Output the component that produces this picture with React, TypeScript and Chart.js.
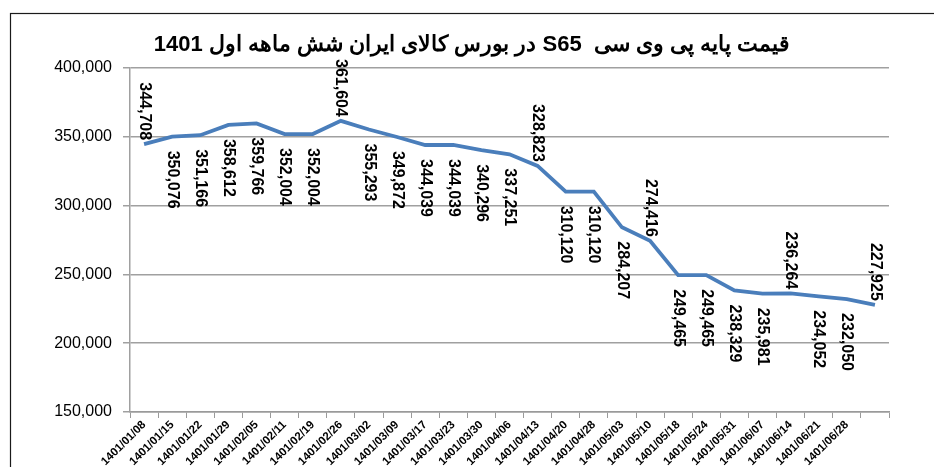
import React, { useEffect, useRef } from "react";
import { Chart, registerables } from "chart.js";

Chart.register(...registerables);

const TITLE = "قیمت پایه پی وی سی  S65 در بورس کالای ایران شش ماهه اول 1401";

const categories = [
  "1401/01/08", "1401/01/15", "1401/01/22", "1401/01/29", "1401/02/05", "1401/02/11",
  "1401/02/19", "1401/02/26", "1401/03/02", "1401/03/09", "1401/03/17", "1401/03/23",
  "1401/03/30", "1401/04/06", "1401/04/13", "1401/04/20", "1401/04/28", "1401/05/03",
  "1401/05/10", "1401/05/18", "1401/05/24", "1401/05/31", "1401/06/07", "1401/06/14",
  "1401/06/21", "1401/06/28", "",
];

const prices = [
  344708, 350076, 351166, 358612, 359766, 352004, 352004, 361604, 355293, 349872,
  344039, 344039, 340296, 337251, 328823, 310120, 310120, 284207, 274416, 249465,
  249465, 238329, 235981, 236264, 234052, 232050, 227925,
];

// indices whose data label sits above the line (others below)
const labelsAbove = [0, 7, 14, 18, 23, 26];

const yMin = 150000;
const yMax = 400000;
const yStep = 50000;

const fmt = (v: number) => v.toLocaleString("en-US");

const framePlugin = {
  id: "frame",
  beforeDraw(chart: any) {
    const ctx = chart.ctx;
    ctx.save();
    ctx.fillStyle = "#ffffff";
    ctx.fillRect(0, 0, chart.width, chart.height);
    ctx.strokeStyle = "#1a1a1a";
    ctx.lineWidth = 1.2;
    ctx.strokeRect(10.5, 13.5, 1200, 1200);
    ctx.restore();
  },
};

const titlePlugin = {
  id: "rtlTitle",
  afterDraw(chart: any) {
    const ctx = chart.ctx;
    ctx.save();
    ctx.direction = "rtl";
    ctx.font = "bold 22px 'Liberation Sans', Arial, sans-serif";
    ctx.fillStyle = "#000000";
    ctx.textAlign = "center";
    ctx.textBaseline = "middle";
    ctx.fillText(TITLE, 472, 45);
    ctx.restore();
  },
};

const dataLabelPlugin = {
  id: "vlabels",
  afterDatasetsDraw(chart: any) {
    const ctx = chart.ctx;
    const meta = chart.getDatasetMeta(0);
    ctx.save();
    ctx.font = "bold 16px 'Liberation Sans', Arial, sans-serif";
    ctx.fillStyle = "#000000";
    ctx.textBaseline = "middle";
    meta.data.forEach((pt: any, i: number) => {
      const above = labelsAbove.includes(i);
      const txt = fmt(prices[i]);
      ctx.save();
      if (above) {
        ctx.translate(pt.x, pt.y - 4);
        ctx.rotate(Math.PI / 2);
        ctx.textAlign = "right";
      } else {
        ctx.translate(pt.x, pt.y + 14);
        ctx.rotate(Math.PI / 2);
        ctx.textAlign = "left";
      }
      ctx.fillText(txt, 0, 0);
      ctx.restore();
    });
    ctx.restore();
  },
};

export default function App() {
  const ref = useRef<HTMLCanvasElement>(null);
  useEffect(() => {
    if (!ref.current) return;
    const chart = new Chart(ref.current, {
      type: "line",
      data: {
        labels: categories,
        datasets: [
          {
            data: prices,
            borderColor: "#4a7ebb",
            borderWidth: 3.8,
            pointRadius: 0,
            tension: 0,
            fill: false,
          },
        ],
      },
      options: {
        animation: false,
        responsive: false,
        maintainAspectRatio: false,
        layout: { padding: { left: 0, right: 45, top: 68, bottom: 0 } },
        plugins: {
          legend: { display: false },
          title: { display: false },
          tooltip: { enabled: false },
        },
        scales: {
          x: {
            offset: true,
            grid: {
              offset: true,
              drawOnChartArea: false,
              drawTicks: true,
              tickLength: 6,
              color: "#9a9a9a",
              lineWidth: 1,
            },
            border: { color: "#9a9a9a", width: 1.5 },
            ticks: {
              autoSkip: false,
              minRotation: 45,
              maxRotation: 45,
              padding: 0,
              color: "#000000",
              font: { family: "'Liberation Sans', Arial, sans-serif", size: 11.5, weight: "bold" },
            },
            afterFit(scale: any) {
              scale.height = 55;
            },
          },
          y: {
            min: yMin,
            max: yMax,
            grid: { color: "#a0a0a0", lineWidth: 1.5, tickLength: 7 },
            border: { color: "#a0a0a0", width: 1.5 },
            ticks: {
              stepSize: yStep,
              padding: 11,
              color: "#000000",
              font: { family: "'Liberation Sans', Arial, sans-serif", size: 16 },
              callback: (v: any) => fmt(Number(v)),
            },
            afterFit(scale: any) {
              scale.width = 130;
            },
          },
        },
      },
      plugins: [framePlugin, titlePlugin, dataLabelPlugin],
    });
    return () => chart.destroy();
  }, []);
  return (
    <canvas
      ref={ref}
      width={934}
      height={467}
      style={{ position: "fixed", left: 0, top: 0, width: 934, height: 467 }}
    />
  );
}
